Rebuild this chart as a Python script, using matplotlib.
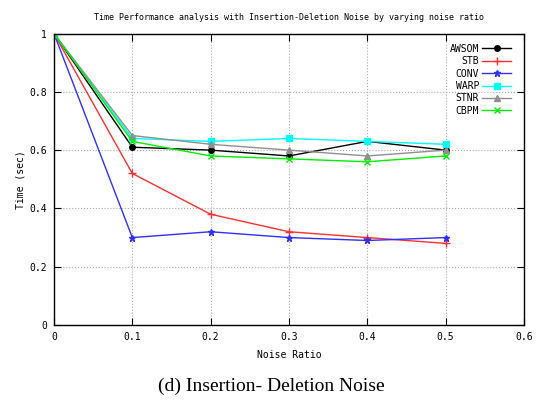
import matplotlib
matplotlib.use("Agg")
import matplotlib.pyplot as plt

noise = [0, 0.1, 0.2, 0.3, 0.4, 0.5]
awsom = [1, 0.61, 0.60, 0.58, 0.63, 0.60]
stb = [1, 0.52, 0.38, 0.32, 0.30, 0.28]
conv = [1, 0.30, 0.32, 0.30, 0.29, 0.30]
warp = [1, 0.64, 0.63, 0.64, 0.63, 0.62]
stnr = [1, 0.65, 0.62, 0.60, 0.58, 0.60]
cbpm = [1, 0.63, 0.58, 0.57, 0.56, 0.58]

plt.rcParams['font.family'] = 'DejaVu Sans Mono'

fig = plt.figure(figsize=(5.43, 4.03), dpi=100)
ax = fig.add_axes([0.0994, 0.1935, 0.8656, 0.7233])

ax.plot(noise, awsom, color='black', marker='o', ms=4, lw=1, label='AWSOM')
ax.plot(noise, stb, color='#ff3030', marker='+', ms=6, lw=1, label='STB')
ax.plot(noise, conv, color='#3030ff', marker='*', ms=5, lw=1, label='CONV')
ax.plot(noise, warp, color='cyan', marker='s', ms=4, lw=1, label='WARP')
ax.plot(noise, stnr, color='#909090', marker='^', ms=4, lw=1, label='STNR')
ax.plot(noise, cbpm, color='#00ee00', marker='x', ms=5, lw=1, label='CBPM')

ax.set_xlim(0, 0.6)
ax.set_ylim(0, 1)
ax.set_xticks([0, 0.1, 0.2, 0.3, 0.4, 0.5, 0.6])
ax.set_xticklabels(['0', '0.1', '0.2', '0.3', '0.4', '0.5', '0.6'])
ax.set_yticks([0, 0.2, 0.4, 0.6, 0.8, 1])
ax.set_yticklabels(['0', '0.2', '0.4', '0.6', '0.8', '1'])
ax.tick_params(direction='in', top=True, right=True, labelsize=7, length=5, pad=5)
ax.grid(True, color='#aaaaaa', linestyle=':', lw=0.8)
for s in ax.spines.values():
    s.set_linewidth(1)

ax.set_xlabel('Noise Ratio', fontsize=7, labelpad=6)
ax.set_ylabel('Time (sec)', fontsize=7, labelpad=3)
ax.set_title('Time Performance analysis with Insertion-Deletion Noise by varying noise ratio',
             fontsize=6, pad=10)

ax.legend(loc='upper right', frameon=False, markerfirst=False, fontsize=7,
          handlelength=3.0, handletextpad=0.3, labelspacing=0.25,
          borderaxespad=0.2, bbox_to_anchor=(0.985, 0.985))

fig.text(0.5, 0.03, '(d) Insertion- Deletion Noise', ha='center', fontsize=14,
         family='Liberation Serif')

fig.savefig('out.png', dpi=100)
